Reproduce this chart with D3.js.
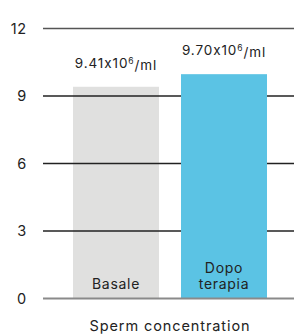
<!DOCTYPE html>
<html>
<head>
<meta charset="utf-8">
<script src="https://cdn.jsdelivr.net/npm/d3@7"></script>
<style>
  body { margin: 0; background: #fff; }
  text { font-family: Inter, "DejaVu Sans", sans-serif; fill: #222; font-feature-settings: "calt" 0; }
</style>
</head>
<body>
<div class="chart"></div>
<script>
// values
const categories = ["Basale", "Dopo terapia"];
const barLabels = [["Basale"], ["Dopo", "terapia"]];
const values = [9.41, 9.97];
const valueText = ["9.41", "9.70"];
const barColors = ["#e0e0df", "#5bc3e4"];
const yTicks = [0, 3, 6, 9, 12];
const axisTitle = "Sperm concentration";

const width = 294, height = 336;
const svg = d3.select(".chart").append("svg")
    .attr("width", width)
    .attr("height", height);

const x = d3.scaleBand()
    .domain(categories)
    .range([73, 267])
    .paddingInner(22 / 108)
    .paddingOuter(0);

const y = d3.scaleLinear()
    .domain([0, 12])
    .range([298.5, 28.5]);

// tick labels
svg.selectAll(".ytick")
  .data(yTicks)
  .enter().append("text")
    .attr("x", 27)
    .attr("y", d => y(d))
    .attr("dy", "0.36em")
    .attr("text-anchor", "end")
    .style("font-size", "14.5px")
    .style("letter-spacing", "0.8px")
    .text(d => d);

// the grey bar sits under the gridlines, the blue one on top of them
svg.selectAll(".bar")
  .data(categories)
  .enter().append("rect")
    .attr("x", d => x(d))
    .attr("width", x.bandwidth())
    .attr("y", (d, i) => y(values[i]))
    .attr("height", (d, i) => y(0) - y(values[i]))
    .attr("fill", (d, i) => barColors[i]);

const grid = svg.insert("g", "rect:nth-of-type(2)");
grid.selectAll("line")
  .data(yTicks.filter(d => d > 0))
  .enter().append("line")
    .attr("x1", 43)
    .attr("x2", width)
    .attr("y1", d => y(d))
    .attr("y2", d => y(d))
    .attr("stroke", d => d == 12 ? "#555" : "#222")
    .attr("stroke-width", 1.5);

svg.append("line")
    .attr("x1", 43)
    .attr("x2", width)
    .attr("y1", y(0))
    .attr("y2", y(0))
    .attr("stroke", "#8a8a8a")
    .attr("stroke-width", 2);

// value labels above bars
const vl = svg.selectAll(".vlabel")
  .data(categories)
  .enter().append("text")
    .attr("x", d => x(d) + x.bandwidth() / 2)
    .attr("y", (d, i) => y(values[i]) - 19)
    .attr("text-anchor", "middle")
    .style("font-size", "13.5px")
    .style("letter-spacing", "0.9px");
vl.append("tspan").text((d, i) => valueText[i] + "x10");
vl.append("tspan").attr("dy", "-0.45em").style("font-size", "8.5px").text("6");
vl.append("tspan").attr("dy", "0.45em").text("/ml");

// labels inside bars
barLabels.forEach((lines, i) => {
  svg.selectAll(null)
    .data(lines)
    .enter().append("text")
      .attr("x", x(categories[i]) + x.bandwidth() / 2)
      .attr("y", (d, j) => 289 - (lines.length - 1 - j) * 16)
      .attr("text-anchor", "middle")
      .style("font-size", "14px")
      .style("letter-spacing", "0.7px")
      .text(d => d);
});

svg.append("text")
    .attr("x", 170)
    .attr("y", 331)
    .attr("text-anchor", "middle")
    .style("font-size", "14.5px")
    .style("letter-spacing", "0.9px")
    .text(axisTitle);
</script>
</body>
</html>
